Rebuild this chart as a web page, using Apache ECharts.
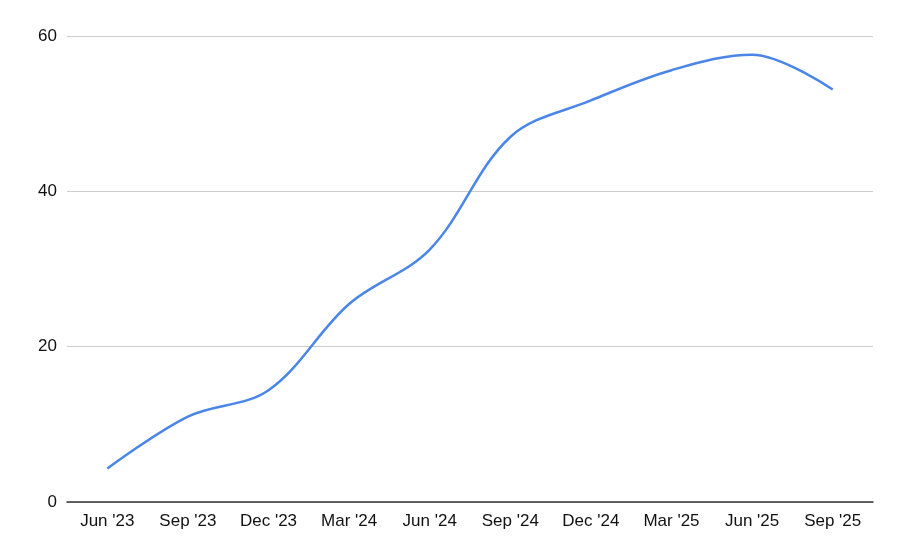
<!DOCTYPE html>
<html>
<head>
<meta charset="utf-8">
<script src="https://cdn.jsdelivr.net/npm/echarts@6/dist/echarts.min.js"></script>
<style>
html,body{margin:0;padding:0;background:#fff;}
#main{width:900px;height:557px;}
</style>
</head>
<body>
<div id="main"></div>
<script>
const categories = ["Jun '23", "Sep '23", "Dec '23", "Mar '24", "Jun '24", "Sep '24", "Dec '24", "Mar '25", "Jun '25", "Sep '25"];
const values = [4.3, 11.0, 14.4, 25.5, 32.5, 47.0, 51.7, 55.6, 57.6, 53.1];
const yTicks = [0, 20, 40, 60];

const chart = echarts.init(document.getElementById('main'), null, {renderer: 'canvas'});
chart.setOption({
  animation: false,
  backgroundColor: '#ffffff',
  grid: {left: 67, right: 27, top: 36, bottom: 55, containLabel: false},
  xAxis: {
    type: 'category',
    data: categories,
    boundaryGap: true,
    axisLine: {show: true, lineStyle: {color: '#333333', width: 1.5}},
    axisTick: {show: false},
    axisLabel: {color: '#111111', fontFamily: 'Liberation Sans', fontSize: 17, margin: 11}
  },
  yAxis: {
    type: 'value',
    min: yTicks[0],
    max: yTicks[yTicks.length - 1],
    interval: 20,
    axisLine: {show: false},
    axisTick: {show: false},
    splitLine: {lineStyle: {color: '#cccccc', width: 1}},
    axisLabel: {color: '#111111', fontFamily: 'Liberation Sans', fontSize: 17, margin: 10}
  },
  series: [{
    type: 'line',
    data: values,
    smooth: 0.35,
    showSymbol: false,
    lineStyle: {color: '#4a86e8', width: 2.5},
    itemStyle: {color: '#4a86e8'}
  }]
});
</script>
</body>
</html>
